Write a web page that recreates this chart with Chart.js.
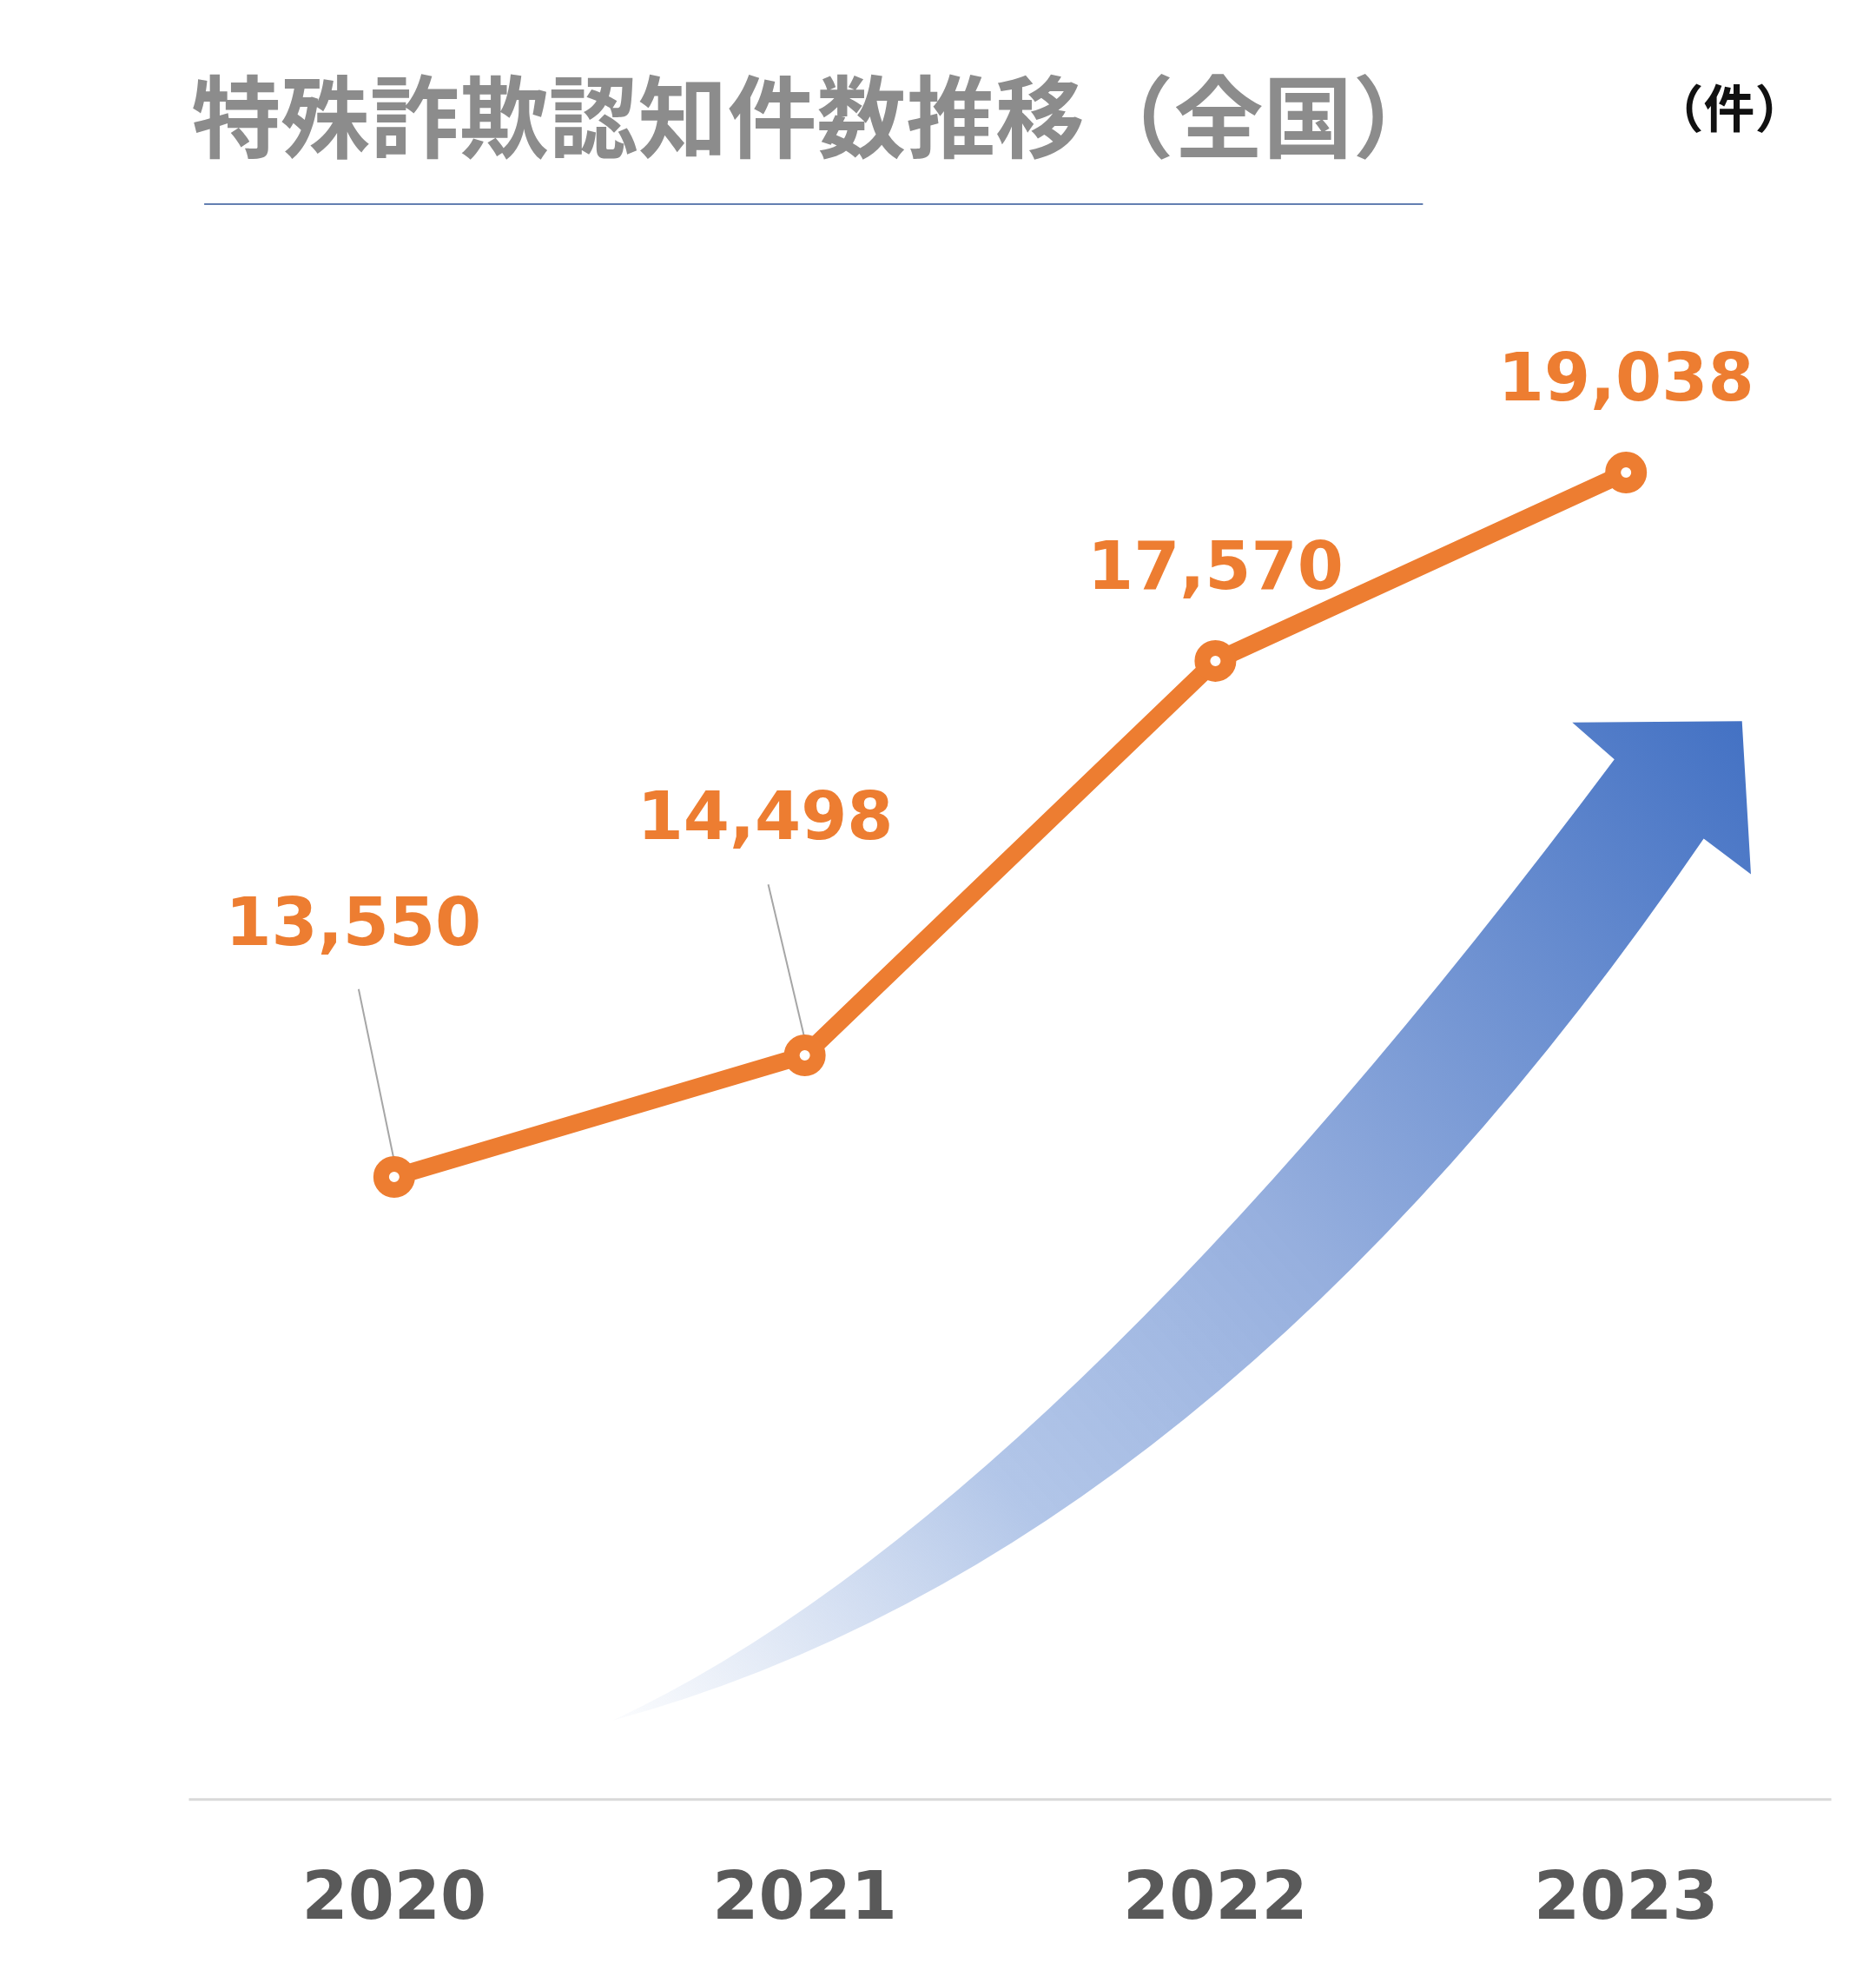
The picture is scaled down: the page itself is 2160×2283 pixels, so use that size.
<!DOCTYPE html>
<html lang="ja">
<head>
<meta charset="UTF-8">
<title>特殊詐欺認知件数推移（全国）</title>
<script src="https://cdn.jsdelivr.net/npm/chart.js"></script>
<style>
  html, body { margin: 0; padding: 0; background: #fff; }
  #wrap { width: 2160px; height: 2283px; position: relative; }
</style>
</head>
<body>
<div id="wrap"><canvas id="myChart" width="2160" height="2283"></canvas></div>
<script>
const years = ['2020', '2021', '2022', '2023'];
const cases = [13550, 14498, 17570, 19038];
const titleText = '特殊詐欺認知件数推移（全国）';
const unitText = '（件）';

const S = 2160 / 1470; // reference layout scale
const ORANGE = '#ED7D31';
const FONT = '"Noto Sans CJK JP", "Noto Sans", sans-serif';
const NUMFONT = '"DejaVu Sans", sans-serif';

// label offsets from the point (layout only)
const labelOffsets = [[-32, -195], [-31, -183], [0, -70], [0, -70]];
const leaders = [[[281, 775], [310, 915]], [[602, 693], [632, 820]]];

const decor = {
  id: 'decor',
  beforeDatasetsDraw(chart) {
    const c = chart.ctx;
    const a = chart.chartArea;
    c.save();
    // title
    c.fillStyle = '#8C8C8C';
    c.font = 'bold ' + (70 * S) + 'px ' + FONT;
    c.textBaseline = 'middle';
    c.textAlign = 'left';
    c.fillText(titleText, 150 * S, 92 * S);
    c.strokeStyle = '#2F5597';
    c.lineWidth = 1.5;
    c.beginPath();
    c.moveTo(160 * S, 160 * S);
    c.lineTo(1115 * S, 160 * S);
    c.stroke();
    c.fillStyle = '#111';
    c.font = 'bold ' + (40 * S) + 'px ' + FONT;
    c.fillText(unitText, 1295 * S, 85 * S);

    // axis line
    c.strokeStyle = '#D9D9D9';
    c.lineWidth = 3;
    c.beginPath();
    c.moveTo(a.left, a.bottom);
    c.lineTo(a.right, a.bottom);
    c.stroke();

    // x labels
    const xs = chart.scales.x;
    c.fillStyle = '#595959';
    c.font = 'bold ' + (52 * S) + 'px ' + NUMFONT;
    c.textAlign = 'center';
    years.forEach((y, i) => c.fillText(y, xs.getPixelForValue(i), 1490 * S));

    // arrow
    const g = c.createLinearGradient(480 * S, 1348 * S, 1365 * S, 570 * S);
    g.addColorStop(0, 'rgba(180,199,231,0.05)');
    g.addColorStop(0.3, 'rgba(170,192,230,0.9)');
    g.addColorStop(0.55, 'rgba(150,175,222,1)');
    g.addColorStop(1, '#4472C4');
    c.fillStyle = g;
    c.beginPath();
    c.moveTo(480 * S, 1348 * S);
    c.quadraticCurveTo(820 * S, 1190 * S, 1265 * S, 595 * S);
    c.lineTo(1232 * S, 566 * S);
    c.lineTo(1365 * S, 565 * S);
    c.lineTo(1372 * S, 685 * S);
    c.lineTo(1335 * S, 657 * S);
    c.quadraticCurveTo(950 * S, 1220 * S, 480 * S, 1348 * S);
    c.closePath();
    c.fill();

    // leader lines
    c.strokeStyle = '#A6A6A6';
    c.lineWidth = 2;
    leaders.forEach(([p, q]) => {
      c.beginPath();
      c.moveTo(p[0] * S, p[1] * S);
      c.lineTo(q[0] * S, q[1] * S);
      c.stroke();
    });
    c.restore();
  },
  afterDatasetsDraw(chart) {
    const c = chart.ctx;
    const meta = chart.getDatasetMeta(0);
    c.save();
    c.fillStyle = ORANGE;
    c.font = 'bold ' + (52 * S) + 'px ' + NUMFONT;
    c.textAlign = 'center';
    c.textBaseline = 'middle';
    meta.data.forEach((pt, i) => {
      c.fillText(cases[i].toLocaleString('en-US'),
        pt.x + labelOffsets[i][0] * S, pt.y + labelOffsets[i][1] * S);
    });
    c.restore();
  }
};

new Chart(document.getElementById('myChart'), {
  type: 'line',
  data: {
    labels: years,
    datasets: [{
      data: cases,
      borderColor: ORANGE,
      borderWidth: 20,
      pointRadius: 15,
      pointBorderWidth: 18,
      pointBackgroundColor: '#fff',
      pointBorderColor: ORANGE,
      tension: 0
    }]
  },
  options: {
    responsive: false,
    animation: false,
    layout: { padding: { left: 148 * S, right: 2160 - 1435 * S, top: 203 * S, bottom: 2283 - 1410 * S } },
    plugins: { legend: { display: false }, tooltip: { enabled: false } },
    scales: {
      x: { display: false, offset: true },
      y: { display: false, min: 8700, max: 20700 }
    }
  },
  plugins: [decor]
});
</script>
</body>
</html>
